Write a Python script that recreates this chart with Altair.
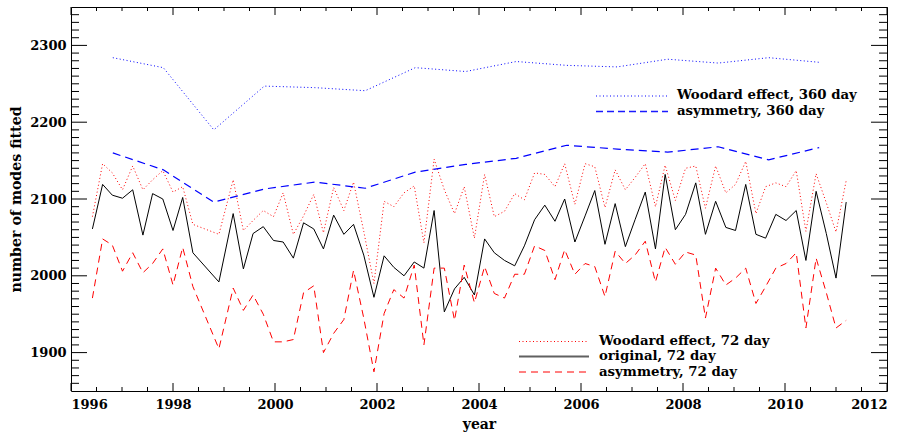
import altair as alt
import pandas as pd

# ---------------- data ----------------
years_72 = [1996.42, 1996.62, 1996.81, 1997.01, 1997.21, 1997.41, 1997.60, 1997.80, 1998.00, 1998.19, 1998.39,
            1998.90,
            1999.18, 1999.38, 1999.57, 1999.77, 1999.97, 2000.16, 2000.36, 2000.56, 2000.76, 2000.95,
            2001.15, 2001.35, 2001.54, 2001.74, 2001.94, 2002.14, 2002.33, 2002.53, 2002.73, 2002.92,
            2003.12, 2003.32, 2003.52, 2003.71, 2003.91, 2004.11, 2004.30, 2004.50, 2004.70, 2004.89,
            2005.09, 2005.29, 2005.49, 2005.68, 2005.88, 2006.08, 2006.27, 2006.47, 2006.67, 2006.87,
            2007.06, 2007.26, 2007.46, 2007.65, 2007.85, 2008.05, 2008.25, 2008.44, 2008.64, 2008.84,
            2009.03, 2009.23, 2009.43, 2009.62, 2009.82, 2010.02, 2010.22, 2010.41, 2010.61, 2010.81,
            2011.00, 2011.20]

original_72 = [2061, 2119, 2105, 2101, 2112, 2053, 2107, 2100, 2059, 2102, 2030,
               1992,
               2081, 2009, 2055, 2064, 2046, 2044, 2023, 2069, 2061, 2035,
               2079, 2054, 2067, 2027, 1972, 2026, 2011, 2000, 2018, 2010,
               2085, 1953, 1983, 1998, 1975, 2048, 2030, 2020, 2013, 2039,
               2073, 2092, 2071, 2100, 2044, 2078, 2111, 2041, 2094, 2038,
               2073, 2109, 2035, 2132, 2060, 2080, 2121, 2054, 2097, 2063,
               2059, 2119, 2054, 2049, 2080, 2072, 2085, 2020, 2110, 2055,
               1997, 2096]

woodard_72 = [2077, 2146, 2134, 2112, 2143, 2112, 2125, 2137, 2109, 2116, 2067,
              2054,
              2125, 2059, 2072, 2085, 2077, 2108, 2054, 2078, 2106, 2056,
              2115, 2085, 2122, 2058, 1990, 2097, 2090, 2108, 2117, 2043,
              2152, 2112, 2081, 2116, 2049, 2132, 2077, 2084, 2107, 2099,
              2134, 2132, 2116, 2146, 2093, 2146, 2142, 2089, 2138, 2112,
              2128, 2146, 2090, 2144, 2098, 2140, 2143, 2088, 2143, 2108,
              2119, 2149, 2081, 2116, 2121, 2116, 2137, 2058, 2133, 2095,
              2057, 2124]

asym_72 = [1971, 2048, 2040, 2006, 2030, 2004, 2016, 2035, 1988, 2037, 1986,
           1905,
           1984, 1955, 1975, 1950, 1914, 1914, 1917, 1978, 1987, 1900,
           1925, 1943, 2007, 1945, 1875, 1951, 1982, 1971, 2014, 1910,
           2010, 2010, 1942, 2014, 1965, 2012, 1977, 1971, 2002, 2002,
           2039, 2033, 1995, 2034, 2002, 2016, 2012, 1973, 2032, 2016,
           2027, 2045, 1992, 2037, 2015, 2031, 2027, 1945, 2010, 1988,
           1997, 2010, 1964, 1986, 2010, 2016, 2030, 1932, 2023, 1978,
           1932, 1942]

years_360 = [1996.82, 1997.81, 1998.80, 1999.79, 2000.78, 2001.77, 2002.75, 2003.74,
             2004.73, 2005.72, 2006.71, 2007.70, 2008.69, 2009.68, 2010.67]
woodard_360 = [2284, 2271, 2190, 2247, 2245, 2241, 2271, 2266, 2279, 2274, 2272, 2282, 2277, 2284, 2278]
asym_360 = [2160, 2138, 2096, 2113, 2122, 2114, 2135, 2145, 2153, 2170, 2165, 2161, 2168, 2151, 2167]

x_major = [1996, 1998, 2000, 2002, 2004, 2006, 2008, 2010, 2012]
x_minor = [1996.5, 1997, 1997.5, 1998.5, 1999, 1999.5, 2000.5, 2001, 2001.5, 2002.5, 2003, 2003.5,
           2004.5, 2005, 2005.5, 2006.5, 2007, 2007.5, 2008.5, 2009, 2009.5, 2010.5, 2011, 2011.5]
y_major = [1900, 2000, 2100, 2200, 2300]
y_minor = [v for v in range(1860, 2350, 10) if v % 100 != 0]

legend_upper = ["Woodard effect, 360 day", "asymmetry, 360 day"]
legend_lower = ["Woodard effect, 72 day", "original, 72 day", "asymmetry, 72 day"]

# ---------------- layout ----------------
W, H = 816, 384
FONT = "DejaVu Serif"
xs = alt.Scale(domain=[1996, 2012], nice=False, zero=False)
ys = alt.Scale(domain=[1850, 2350], nice=False, zero=False)

df72 = pd.DataFrame({"year": years_72, "orig": original_72, "wood": woodard_72, "asym": asym_72})
df360 = pd.DataFrame({"year": years_360, "wood": woodard_360, "asym": asym_360})

x_axis = alt.Axis(values=x_major, format="d", ticks=False, domain=False, grid=False,
                  labelPadding=7, title="year", titleY=33, titleBaseline="middle", titleFontSize=14)
y_axis = alt.Axis(values=y_major, format="d", ticks=False, domain=False, grid=False,
                  labelPadding=5, title="number of modes fitted", titleFontSize=14.2,
                  titleX=-55, titleY=H / 2, titleAngle=-90, titleBaseline="middle", titleAlign="center")


def X(field):
    return alt.X(field, type="quantitative", scale=xs, axis=x_axis)


def Y(field):
    return alt.Y(field, type="quantitative", scale=ys, axis=y_axis)


base72 = alt.Chart(df72)
base360 = alt.Chart(df360)

l_orig = base72.mark_line(stroke="black", strokeWidth=1).encode(x=X("year"), y=Y("orig"))
l_wood72 = base72.mark_line(stroke="#ff0000", strokeWidth=1, strokeDash=[1, 2.5]).encode(
    x=X("year"), y=Y("wood"))
l_asym72 = base72.mark_line(stroke="#ff0000", strokeWidth=1, strokeDash=[7, 5]).encode(
    x=X("year"), y=Y("asym"))
l_wood360 = base360.mark_line(stroke="#0000ff", strokeWidth=1, strokeDash=[1, 2.5]).encode(
    x=X("year"), y=Y("wood"))
l_asym360 = base360.mark_line(stroke="#0000ff", strokeWidth=1.2, strokeDash=[8, 5]).encode(
    x=X("year"), y=Y("asym"))


# ---------------- inward ticks on all four sides ----------------
def xticks(vals, length):
    d = alt.Chart(pd.DataFrame({"v": vals}))
    bot = d.mark_rule(stroke="black", strokeWidth=1).encode(
        x=X("v"), y=alt.value(H), y2=alt.value(H - length))
    top = d.mark_rule(stroke="black", strokeWidth=1).encode(
        x=X("v"), y=alt.value(0), y2=alt.value(length))
    return [bot, top]


def yticks(vals, length):
    d = alt.Chart(pd.DataFrame({"v": vals}))
    left = d.mark_rule(stroke="black", strokeWidth=1).encode(
        y=Y("v"), x=alt.value(0), x2=alt.value(length))
    right = d.mark_rule(stroke="black", strokeWidth=1).encode(
        y=Y("v"), x=alt.value(W), x2=alt.value(W - length))
    return [left, right]


tick_layers = xticks(x_major, 8) + xticks(x_minor, 4) + yticks(y_major, 16) + yticks(y_minor, 8)

# ---------------- manual legends ----------------
one = pd.DataFrame({"a": [0]})


def leg_line(x1, x2, y, color, dash, sw=1.0):
    kw = dict(color=color, stroke=color, strokeWidth=sw)
    if dash:
        kw["strokeDash"] = dash
    return alt.Chart(one).mark_rule(**kw).encode(x=alt.value(x1), x2=alt.value(x2), y=alt.value(y))


def leg_text(x, y, txt):
    return alt.Chart(one).mark_text(align="left", baseline="middle", font=FONT, fontWeight="bold",
                                    fontSize=13.3, fill="black").encode(
        x=alt.value(x), y=alt.value(y), text=alt.value(txt))


legend_layers = [
    leg_line(525, 597, 89, "#0000ff", [1, 2.5]), leg_text(606, 88, legend_upper[0]),
    leg_line(525, 597, 104.5, "#1a1aff", [7, 4], 1.6), leg_text(606, 104, legend_upper[1]),
    leg_line(448, 518, 334.5, "#ff0000", [1, 2.5]), leg_text(528, 333.5, legend_lower[0]),
    leg_line(448, 518, 349.5, "#606060", None, 2), leg_text(528, 349, legend_lower[1]),
    leg_line(448, 518, 365, "#ff0000", [7, 5]), leg_text(528, 364.5, legend_lower[2]),
]

chart = alt.layer(
    l_orig, l_wood72, l_asym72, l_wood360, l_asym360, *tick_layers, *legend_layers
).properties(
    width=W, height=H,
    padding={"left": 71, "top": 7, "right": 19, "bottom": 42},
    autosize="none",
    background="white",
).configure_view(
    stroke="black", strokeWidth=1
).configure_axis(
    labelFont=FONT, labelFontWeight="bold", labelFontSize=13, labelColor="black",
    titleFont=FONT, titleFontWeight="bold", titleColor="black",
)

chart.save("out.html", embed_options={"renderer": "svg", "actions": False})
